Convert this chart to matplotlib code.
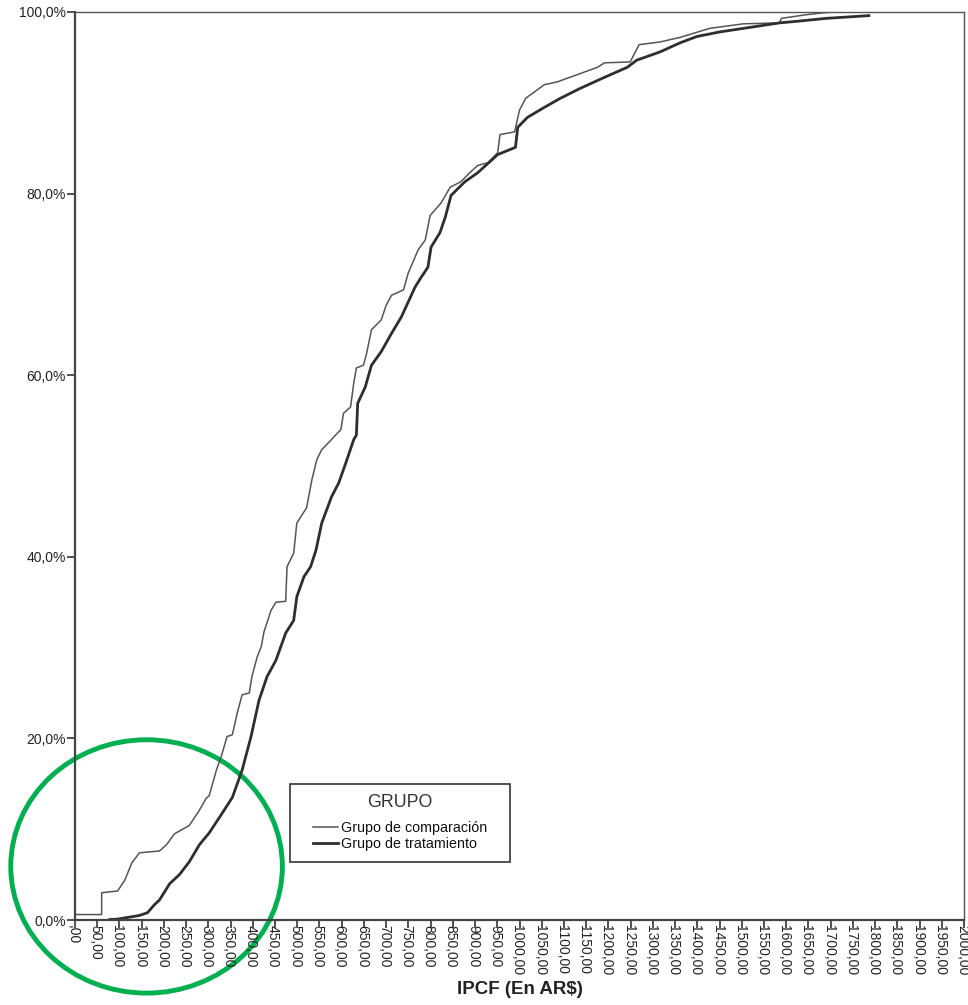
import numpy as np
import matplotlib
matplotlib.use("Agg")
import matplotlib.pyplot as plt
import matplotlib.transforms as mtransforms
from matplotlib.patches import Ellipse, Rectangle
from matplotlib.ticker import FuncFormatter

plt.rcParams['font.family'] = ['Liberation Sans', 'DejaVu Sans']

# Grupo de comparación: IPCF (AR$) vs % acumulado
comp_x = [0, 60, 60, 96, 112, 128, 145, 190, 206, 224, 257, 280, 295, 302, 318, 329,
          342, 354, 365, 376, 392, 398, 410, 419, 425, 441, 452, 474, 477, 492, 499,
          508, 521, 533, 544, 555, 571, 586, 598, 604, 620, 627, 633, 649, 656, 667,
          689, 700, 712, 739, 750, 765, 772, 788, 799, 824, 844, 868, 888, 906, 929,
          951, 956, 989, 1000, 1014, 1056, 1085, 1141, 1175, 1191, 1249, 1269, 1316,
          1361, 1428, 1504, 1585, 1589, 1645, 1701]
comp_y = [0.6, 0.6, 3.0, 3.2, 4.4, 6.3, 7.4, 7.6, 8.3, 9.5, 10.4, 12.1, 13.4, 13.7, 16.5, 18.0,
          20.2, 20.4, 22.8, 24.8, 25.0, 26.8, 29.0, 30.1, 31.7, 34.1, 35.0, 35.1, 38.9, 40.4, 43.7,
          44.4, 45.4, 48.5, 50.7, 51.8, 52.6, 53.4, 54.0, 55.8, 56.5, 59.1, 60.8, 61.1, 62.4, 65.0,
          66.1, 67.7, 68.8, 69.4, 71.3, 73.0, 73.8, 74.9, 77.6, 79.0, 80.7, 81.3, 82.3, 83.1, 83.4,
          84.5, 86.5, 86.8, 89.2, 90.5, 92.0, 92.3, 93.3, 93.9, 94.4, 94.5, 96.4, 96.7,
          97.2, 98.2, 98.7, 98.8, 99.3, 99.7, 100.0]

# Grupo de tratamiento
trat_x = [78, 96, 145, 163, 179, 190, 213, 235, 257, 280, 302, 329, 354, 376, 396, 414,
          432, 452, 474, 492, 499, 515, 530, 542, 555, 577, 593, 609, 627, 633, 636,
          653, 667, 689, 712, 734, 750, 765, 779, 794, 801, 821, 833, 846, 877, 906,
          951, 991, 996, 1018, 1056, 1092, 1137, 1191, 1242, 1264, 1316, 1361, 1399,
          1450, 1504, 1585, 1629, 1690, 1786]
trat_y = [0.05, 0.1, 0.5, 0.8, 1.7, 2.2, 4.0, 5.0, 6.4, 8.3, 9.6, 11.6, 13.5, 16.5, 20.2, 24.2,
          26.8, 28.6, 31.6, 33.0, 35.6, 37.8, 38.9, 40.7, 43.7, 46.6, 48.1, 50.3, 52.9, 53.4, 56.9,
          58.7, 61.1, 62.6, 64.6, 66.4, 68.1, 69.7, 70.8, 71.9, 74.1, 75.7, 77.4, 79.8, 81.3, 82.3,
          84.3, 85.1, 87.3, 88.4, 89.5, 90.5, 91.6, 92.8, 93.9, 94.7, 95.6, 96.6, 97.3,
          97.8, 98.2, 98.8, 99.0, 99.3, 99.6]

x_ticks = np.arange(0, 2001, 50)
y_ticks = [0, 20, 40, 60, 80, 100]

fig = plt.figure(figsize=(9.68, 10.05), dpi=100)
ax = fig.add_axes([75/968, 85/1005, 889/968, 908/1005])

ax.plot(comp_x, comp_y, color='#555555', lw=1.1, label='Grupo de comparación')
ax.plot(trat_x, trat_y, color='#2e2e2e', lw=2.0, label='Grupo de tratamiento')

ax.set_xlim(0, 2000)
ax.set_ylim(0, 100)
ax.set_xticks(x_ticks)
ax.set_yticks(y_ticks)
ax.xaxis.set_major_formatter(FuncFormatter(lambda v, p: ',00' if v == 0 else f'{int(v)},00'))
ax.yaxis.set_major_formatter(FuncFormatter(lambda v, p: f'{v:.1f}%'.replace('.', ',')))
ax.tick_params(axis='x', labelrotation=270, labelsize=10, length=5.5, width=1.2,
               color='#333333', labelcolor='#222222', pad=-2)
ax.tick_params(axis='y', labelsize=10, length=5.5, width=1.2, color='#333333',
               labelcolor='#222222', pad=1)
shift = mtransforms.ScaledTranslation(-2/100, 0, fig.dpi_scale_trans)
for lab in ax.get_xticklabels():
    lab.set_verticalalignment('top')
    lab.set_horizontalalignment('center')
    lab.set_transform(lab.get_transform() + shift)

for s in ['left', 'bottom']:
    ax.spines[s].set_color('#444444')
    ax.spines[s].set_linewidth(1.6)
for s in ['top', 'right']:
    ax.spines[s].set_color('#555555')
    ax.spines[s].set_linewidth(1.0)

ax.set_xlabel('IPCF (En AR$)', fontsize=13.5, fontweight='bold', color='#222222', labelpad=4)

# leyenda (marco aparte para centrar el contenido)
leg = ax.legend(loc='center', bbox_to_anchor=(0.3656, 0.1075), title='GRUPO',
                fontsize=10.3, title_fontsize=12.8, frameon=False,
                handlelength=1.75, handletextpad=0.2, labelspacing=0.15, borderpad=0)
leg._legend_box.sep = 7.0
leg.get_title().set_color('#333333')
for t in leg.get_texts():
    t.set_color('#111111')
ax.add_patch(Rectangle((0.2418, 0.0639), 0.2475, 0.0859, transform=ax.transAxes,
                       fill=False, edgecolor='#333333', lw=1.2, zorder=5))

# marca verde
ell = Ellipse((161, 5.9), 611, 27.9, fill=False, edgecolor='#00b050', lw=3.5, clip_on=False)
ax.add_patch(ell)

fig.savefig('out.png', dpi=100)
